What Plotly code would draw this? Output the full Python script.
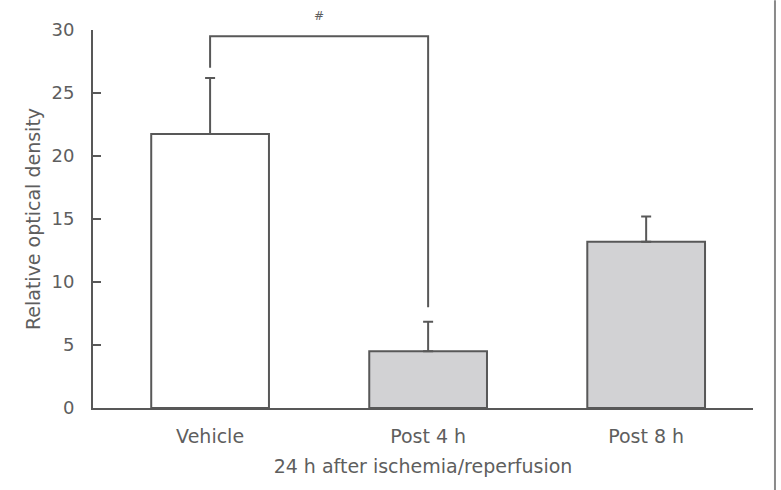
import plotly.graph_objects as go

categories = ["Vehicle", "Post 4 h", "Post 8 h"]
values = [21.75, 4.5, 13.2]
errors = [4.45, 2.35, 2.0]
bar_colors = ["#ffffff", "#d2d2d4", "#d2d2d4"]

bracket_x = ["Vehicle", "Vehicle", "Post 4 h", "Post 4 h"]
bracket_y = [27.0, 29.5, 29.5, 8.0]
sig_label = "#"

gray = "#585858"
text_gray = "#5e5e5e"
font_family = "'DejaVu Sans', sans-serif"

fig = go.Figure()
fig.add_trace(go.Bar(
    x=categories, y=values,
    marker=dict(color=bar_colors, line=dict(color=gray, width=2)),
    width=0.54,
    error_y=dict(type="data", symmetric=False, array=errors, arrayminus=[0, 0, 0],
                 color=gray, thickness=2, width=5),
    showlegend=False,
))
fig.add_trace(go.Scatter(
    x=bracket_x, y=bracket_y, mode="lines",
    line=dict(color=gray, width=2), showlegend=False, cliponaxis=False,
))
fig.add_annotation(x=0.5, y=1.036, xref="x", yref="paper", yanchor="middle",
                   text=sig_label, showarrow=False,
                   font=dict(size=12, color=text_gray, family=font_family))

fig.add_shape(type="line", xref="paper", yref="paper", x0=1.0333, x1=1.0333,
              y0=-0.217, y1=1.079, line=dict(color="#8a8a8a", width=2))

fig.update_layout(
    width=781, height=490,
    margin=dict(l=93, r=28, t=30, b=82),
    plot_bgcolor="white", paper_bgcolor="white",
    font=dict(family=font_family, color=text_gray, size=19),
)
fig.update_xaxes(
    range=[-0.537, 2.49], showline=True, linecolor=gray, linewidth=2,
    ticks="outside", ticklen=10, tickcolor="rgba(0,0,0,0)",
    tickfont=dict(size=19, color=text_gray),
    title=dict(text="24 h after ischemia/reperfusion", font=dict(size=19, color=text_gray), standoff=14),
    showgrid=False, zeroline=False,
)
fig.update_yaxes(
    range=[0, 30], tickvals=[0, 5, 10, 15, 20, 25, 30], showline=True, linecolor=gray, linewidth=2,
    ticks="inside", ticklen=8, tickwidth=2, tickcolor=gray, ticklabelstandoff=13,
    tickfont=dict(size=18, color=text_gray),
    title=dict(text="Relative optical density", font=dict(size=19, color=text_gray), standoff=6),
    showgrid=False, zeroline=False,
)

fig.write_html("out.html")
